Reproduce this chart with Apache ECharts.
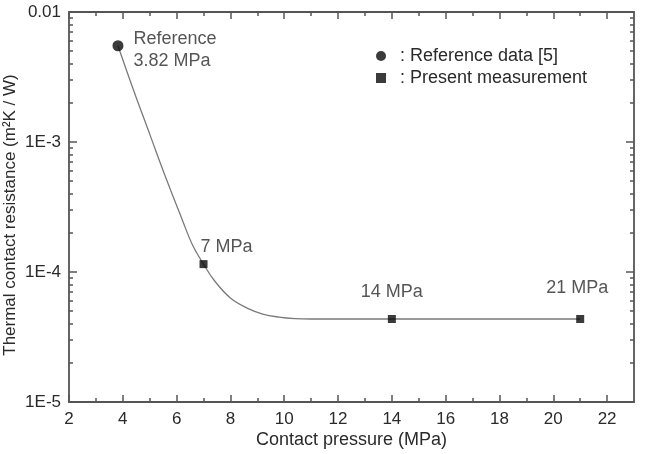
<!DOCTYPE html>
<html>
<head>
<meta charset="utf-8">
<script src="https://cdn.jsdelivr.net/npm/echarts@6/dist/echarts.min.js"></script>
<style>
html,body{margin:0;padding:0;background:#fff;}
#c{width:645px;height:454px;}
</style>
</head>
<body>
<div id="c"></div>
<script>
// ---- data ----
var seriesNames = ['Reference data [5]', 'Present measurement'];
var refX = [3.82];
var refY = [5.5e-3];
var refLabels = ['Reference\n3.82 MPa'];
var measX = [7, 14, 21];
var measY = [1.15e-4, 4.35e-5, 4.35e-5];
var measLabels = ['7 MPa', '14 MPa', '21 MPa'];
var curveX = [3.82, 4.4, 5.0, 5.6, 6.2, 6.6, 7.0, 7.4, 8.0, 8.6, 9.2, 9.8, 10.4, 11.0, 14, 21];
var curveY = [5.5e-3, 2.5e-3, 1.15e-3, 5.3e-4, 2.55e-4, 1.6e-4, 1.15e-4, 8.6e-5, 6.3e-5, 5.3e-5, 4.75e-5, 4.5e-5, 4.38e-5, 4.35e-5, 4.35e-5, 4.35e-5];
var xMajorTicks = [2, 4, 6, 8, 10, 12, 14, 16, 18, 20, 22];
var xMinorTicks = [3, 5, 7, 9, 11, 13, 15, 17, 19, 21];
var yTickValues = [1e-5, 1e-4, 1e-3, 1e-2];
var yTickLabels = ['1E-5', '1E-4', '1E-3', '0.01'];
var xTitle = 'Contact pressure (MPa)';
var yTitle = 'Thermal contact resistance (m\u00B2K / W)';

// ---- layout / style ----
var FONT = "'Liberation Sans', Arial, sans-serif";
var TXT = '#2a2a2a';
var AX = '#555555';
var X_MIN = 2, X_MAX = 23;
var Y_MIN = 1e-5, Y_MAX = 1e-2;
var gridBox = {left: 69, right: 11, top: 12, bottom: 52, outerBoundsMode: 'none', containLabel: false};

// log-spaced minor tick positions (in log10 space)
var yMinorLog = [];
for (var d = -5; d < -2; d++) {
  for (var k = 2; k <= 9; k++) yMinorLog.push(Math.log10(k) + d);
}

var measLabelLayout = [
  {offset: [23, 0], distance: 4},
  {offset: [0, 0], distance: 14},
  {offset: [-3, 0], distance: 18}
];

function grid(i) { return Object.assign({}, gridBox); }

function hiddenAxisCommon() {
  return {axisLabel: {show: false}, splitLine: {show: false}, axisLine: {show: false}};
}

var option = {
  animation: false,
  backgroundColor: '#fff',
  textStyle: {fontFamily: FONT},
  grid: [grid(0), grid(1), grid(2), grid(3)],
  legend: {
    left: 371, top: 41, orient: 'vertical',
    itemWidth: 10, itemHeight: 10, itemGap: 2,
    textStyle: {fontFamily: FONT, fontSize: 18, color: TXT, lineHeight: 20, padding: [0, 0, 0, 9]},
    formatter: function (n) { return ': ' + n; },
    data: [{name: seriesNames[0], icon: 'circle'}, {name: seriesNames[1], icon: 'rect'}]
  },
  xAxis: [
    { // main bottom axis
      gridIndex: 0, type: 'value', min: X_MIN, max: X_MAX, interval: 2, position: 'bottom',
      name: xTitle, nameLocation: 'middle', nameGap: 29, nameMoveOverlap: false,
      nameTextStyle: {fontFamily: FONT, fontSize: 18, color: TXT},
      axisLine: {show: true, lineStyle: {color: AX, width: 1.8}},
      axisTick: {show: true, inside: true, length: 7, customValues: xMajorTicks, lineStyle: {color: AX, width: 1.5}},
      axisLabel: {fontFamily: FONT, fontSize: 17, color: TXT, margin: 9, customValues: xMajorTicks},
      splitLine: {show: false}
    },
    { // top axis
      gridIndex: 1, type: 'value', min: X_MIN, max: X_MAX, position: 'top',
      axisLine: {show: true, lineStyle: {color: AX, width: 1.8}},
      axisTick: {show: true, inside: true, length: 7, customValues: xMajorTicks, lineStyle: {color: AX, width: 1.5}},
      axisLabel: {show: false}, splitLine: {show: false}
    },
    Object.assign({ // bottom minor ticks
      gridIndex: 2, type: 'value', min: X_MIN, max: X_MAX, position: 'bottom',
      axisTick: {show: true, inside: true, length: 4, customValues: xMinorTicks, lineStyle: {color: AX, width: 1.5}}
    }, hiddenAxisCommon()),
    Object.assign({ // top minor ticks
      gridIndex: 3, type: 'value', min: X_MIN, max: X_MAX, position: 'top',
      axisTick: {show: true, inside: true, length: 4, customValues: xMinorTicks, lineStyle: {color: AX, width: 1.5}}
    }, hiddenAxisCommon())
  ],
  yAxis: [
    { // main left log axis
      gridIndex: 0, type: 'log', logBase: 10, min: Y_MIN, max: Y_MAX, position: 'left',
      name: yTitle, nameLocation: 'middle', nameGap: 50, nameRotate: 90, nameMoveOverlap: false,
      nameTextStyle: {fontFamily: FONT, fontSize: 17, color: TXT, padding: [0, 16, 0, 0]},
      axisLine: {show: true, lineStyle: {color: AX, width: 1.8}},
      axisTick: {show: true, inside: true, length: 8, lineStyle: {color: AX, width: 1.5}},
      axisLabel: {
        fontFamily: FONT, fontSize: 17, color: TXT, margin: 8,
        formatter: function (v) {
          for (var i = 0; i < yTickValues.length; i++) {
            if (Math.abs(Math.log10(v) - Math.log10(yTickValues[i])) < 1e-6) return yTickLabels[i];
          }
          return '';
        }
      },
      splitLine: {show: false}
    },
    { // right log axis
      gridIndex: 1, type: 'log', logBase: 10, min: Y_MIN, max: Y_MAX, position: 'right',
      axisLine: {show: true, lineStyle: {color: AX, width: 1.8}},
      axisTick: {show: true, inside: true, length: 8, lineStyle: {color: AX, width: 1.5}},
      axisLabel: {show: false}, splitLine: {show: false}
    },
    Object.assign({ // left minor ticks
      gridIndex: 2, type: 'value', min: -5, max: -2, position: 'left',
      axisTick: {show: true, inside: true, length: 4, customValues: yMinorLog, lineStyle: {color: AX, width: 1.5}}
    }, hiddenAxisCommon()),
    Object.assign({ // right minor ticks
      gridIndex: 3, type: 'value', min: -5, max: -2, position: 'right',
      axisTick: {show: true, inside: true, length: 4, customValues: yMinorLog, lineStyle: {color: AX, width: 1.5}}
    }, hiddenAxisCommon())
  ],
  series: [
    {
      name: 'curve', type: 'line', xAxisIndex: 0, yAxisIndex: 0,
      data: curveX.map(function (x, i) { return [x, curveY[i]]; }),
      smooth: 0.4, showSymbol: false, symbol: 'none',
      lineStyle: {color: '#7a7a7a', width: 1.3},
      z: 2, silent: true
    },
    {
      name: seriesNames[0], type: 'scatter', xAxisIndex: 0, yAxisIndex: 0,
      symbol: 'circle', symbolSize: 11,
      itemStyle: {color: '#0a0a0a'},
      data: refX.map(function (x, i) { return [x, refY[i]]; }),
      label: {
        show: true, position: 'right', distance: 10, align: 'left', verticalAlign: 'middle',
        offset: [0, 4], lineHeight: 22,
        fontFamily: FONT, fontSize: 18, color: TXT,
        formatter: function (p) { return refLabels[p.dataIndex]; }
      },
      z: 5
    },
    {
      name: seriesNames[1], type: 'scatter', xAxisIndex: 0, yAxisIndex: 0,
      symbol: 'rect', symbolSize: 8,
      itemStyle: {color: '#0a0a0a'},
      data: measX.map(function (x, i) {
        return {
          value: [x, measY[i]],
          label: {offset: measLabelLayout[i].offset, distance: measLabelLayout[i].distance}
        };
      }),
      label: {
        show: true, position: 'top',
        fontFamily: FONT, fontSize: 18, color: TXT,
        formatter: function (p) { return measLabels[p.dataIndex]; }
      },
      z: 5
    }
  ]
};

var chart = echarts.init(document.getElementById('c'), null, {renderer: 'canvas'});
chart.setOption(option);
</script>
</body>
</html>
